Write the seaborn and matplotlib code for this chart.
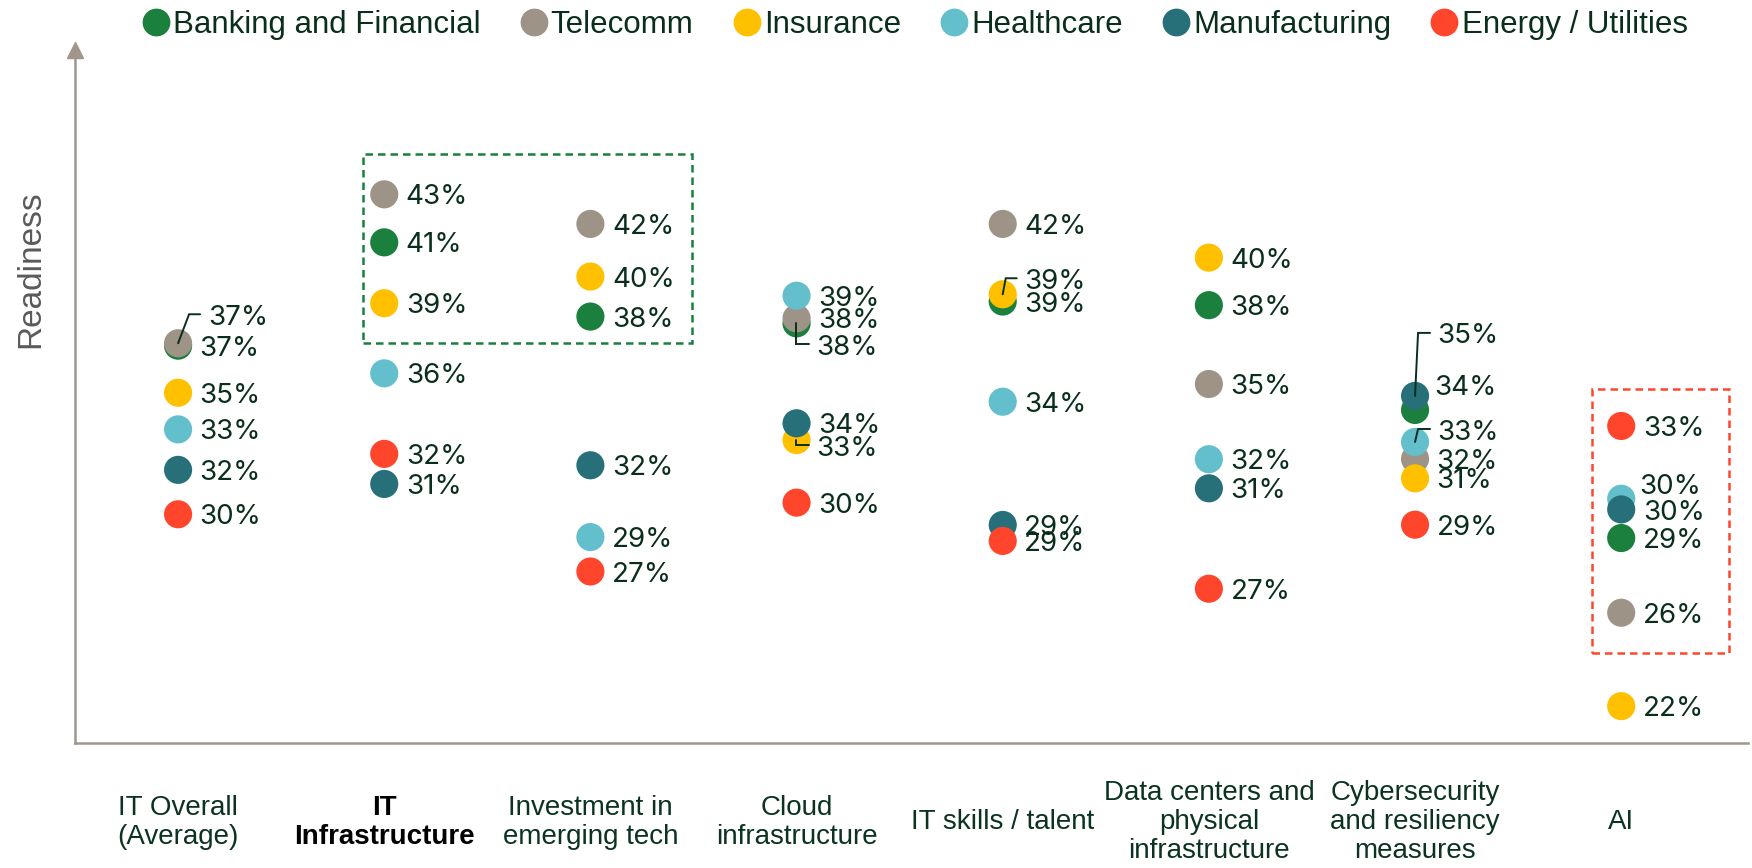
import pandas as pd
import matplotlib.pyplot as plt
import seaborn as sns
from matplotlib.lines import Line2D
from matplotlib.patches import Rectangle

# ---- data ----
categories = ["IT Overall\n(Average)", "IT\nInfrastructure", "Investment in\nemerging tech",
              "Cloud\ninfrastructure", "IT skills / talent", "Data centers and\nphysical\ninfrastructure",
              "Cybersecurity\nand resiliency\nmeasures", "AI"]
industries = ["Banking and Financial", "Telecomm", "Insurance", "Healthcare", "Manufacturing", "Energy / Utilities"]

banking = [36.76, 41.02, 37.96, 37.68, 38.58, 38.43, 34.11, 28.83]
telecomm = [36.86, 43.00, 41.78, 37.89, 41.78, 35.18, 32.09, 25.75]
insurance = [34.82, 38.51, 39.61, 32.87, 38.88, 40.39, 31.29, 21.90]
healthcare = [33.31, 35.62, 28.87, 38.82, 34.45, 32.08, 32.79, 30.45]
manufacturing = [31.64, 31.06, 31.83, 33.56, 29.37, 30.88, 34.69, 30.01]
energy = [29.81, 32.30, 27.45, 30.29, 28.71, 26.74, 29.38, 33.45]

colors = ["#1B7F3E", "#9E9387", "#FFC000", "#64BFCC", "#276F79", "#FF462D"]

series = [banking, telecomm, insurance, healthcare, manufacturing, energy]
rows = []
for ind, vals in zip(industries, series):
    for i, v in enumerate(vals):
        rows.append({"pos": i, "industry": ind, "value": v})
df = pd.DataFrame(rows)

# label nudges (pixels: text-left dx, dy up) and leader lines for crowded spots
nudges = {
    (0, "Telecomm"): (32, 28),
    (3, "Banking and Financial"): (21, -22),
    (3, "Insurance"): (21, -6),
    (4, "Insurance"): (23, 15),
    (6, "Manufacturing"): (24, 63),
    (6, "Banking and Financial"): (21, 25),
    (6, "Healthcare"): (24, 12),
    (7, "Healthcare"): (19, 15),
}
leaders = {
    (0, "Telecomm"): [(0, 0), (11, 29), (22, 29)],
    (3, "Banking and Financial"): [(-1, 0), (-1, -21), (12, -21)],
    (3, "Insurance"): [(-1, 0), (-1, -5), (12, -5)],
    (4, "Insurance"): [(0, 0), (3, 16), (14, 16)],
    (6, "Manufacturing"): [(0, 0), (3, 63), (15, 63)],
    (6, "Healthcare"): [(0, 0), (3, 13), (15, 13)],
}

# ---- figure ----
sns.set_style("white")
plt.rcParams['font.family'] = ['Liberation Sans', 'DejaVu Sans']

W, H = 1752, 868
fig = plt.figure(figsize=(W / 100, H / 100), dpi=100)
ax_l, ax_r, ax_t, ax_b = 75, 1748, 50, 743
ax = fig.add_axes([ax_l / W, (H - ax_b) / H, (ax_r - ax_l) / W, (ax_b - ax_t) / H])
xlim = (-0.5, 7.615)
ylim = (20.38, 48.95)
ax.set_xlim(xlim)
ax.set_ylim(ylim)
px_x = (ax_r - ax_l) / (xlim[1] - xlim[0])
px_y = (ax_b - ax_t) / (ylim[1] - ylim[0])

sns.scatterplot(data=df, x="pos", y="value", hue="industry", palette=colors,
                hue_order=industries, s=410, linewidth=0, legend=False, ax=ax, zorder=3)

text_col = "#0a2e1c"
fs = 20
for _, r in df.iterrows():
    key = (r["pos"], r["industry"])
    dx, dy = nudges.get(key, (23, 0))
    ax.annotate(f"{r['value']:.0f}%", xy=(r["pos"], r["value"]),
                xytext=((dx - 1.5) * 0.72, dy * 0.72 - 0.364 * fs), textcoords="offset points",
                ha="left", va="baseline", fontsize=fs, family="Inter", color=text_col, zorder=5)
    if key in leaders:
        xs = [r["pos"] + p[0] / px_x for p in leaders[key]]
        ys = [r["value"] + p[1] / px_y for p in leaders[key]]
        ax.plot(xs, ys, color=text_col, lw=1.4, zorder=4, solid_joinstyle="miter")

# dashed highlight boxes
ax.add_patch(Rectangle((1 - 0.103, 36.88), 1.594, 44.65 - 36.88, fill=False,
                       ec="#1B7F3E", lw=1.8, ls=(0, (3, 2)), zorder=2))
ax.add_patch(Rectangle((7 - 0.143, 24.10), 0.666, 34.96 - 24.10, fill=False,
                       ec="#FF462D", lw=1.8, ls=(0, (3, 2)), zorder=2))

# axes styling
spine_col = "#A0968B"
for s in ["top", "right"]:
    ax.spines[s].set_visible(False)
for s in ["left", "bottom"]:
    ax.spines[s].set_color(spine_col)
    ax.spines[s].set_linewidth(1.8)
ax.plot([0], [1], marker="^", ms=12, color=spine_col, transform=ax.transAxes, clip_on=False)

ax.set_yticks([])
ax.set_xticks(range(len(categories)))
ax.set_xticklabels(categories, fontsize=20, linespacing=1.15)
ax.tick_params(axis="x", length=0, pad=57)
for i, lab in enumerate(ax.get_xticklabels()):
    lab.set_va("center")
    if i == 1:
        lab.set_fontweight("bold")
        lab.set_color("black")
    else:
        lab.set_color("#0b3320")
ax.set_xlabel("")
ax.set_ylabel("")

fig.text(31 / W, 1 - 269 / H, "Readiness", rotation=90, ha="center", va="center",
         fontsize=24, color="#5a5a5a")

handles = [Line2D([0], [0], marker="o", ls="", ms=19, mfc=c, mec=c) for c in colors]
fig.legend(handles, industries, loc="center", bbox_to_anchor=(0.522, 1 - 25 / H), ncol=6,
           frameon=False, fontsize=22.5, handlelength=0.9, handletextpad=0.1,
           columnspacing=1.25, labelcolor=text_col, borderaxespad=0)

fig.savefig("out.png", dpi=100)
